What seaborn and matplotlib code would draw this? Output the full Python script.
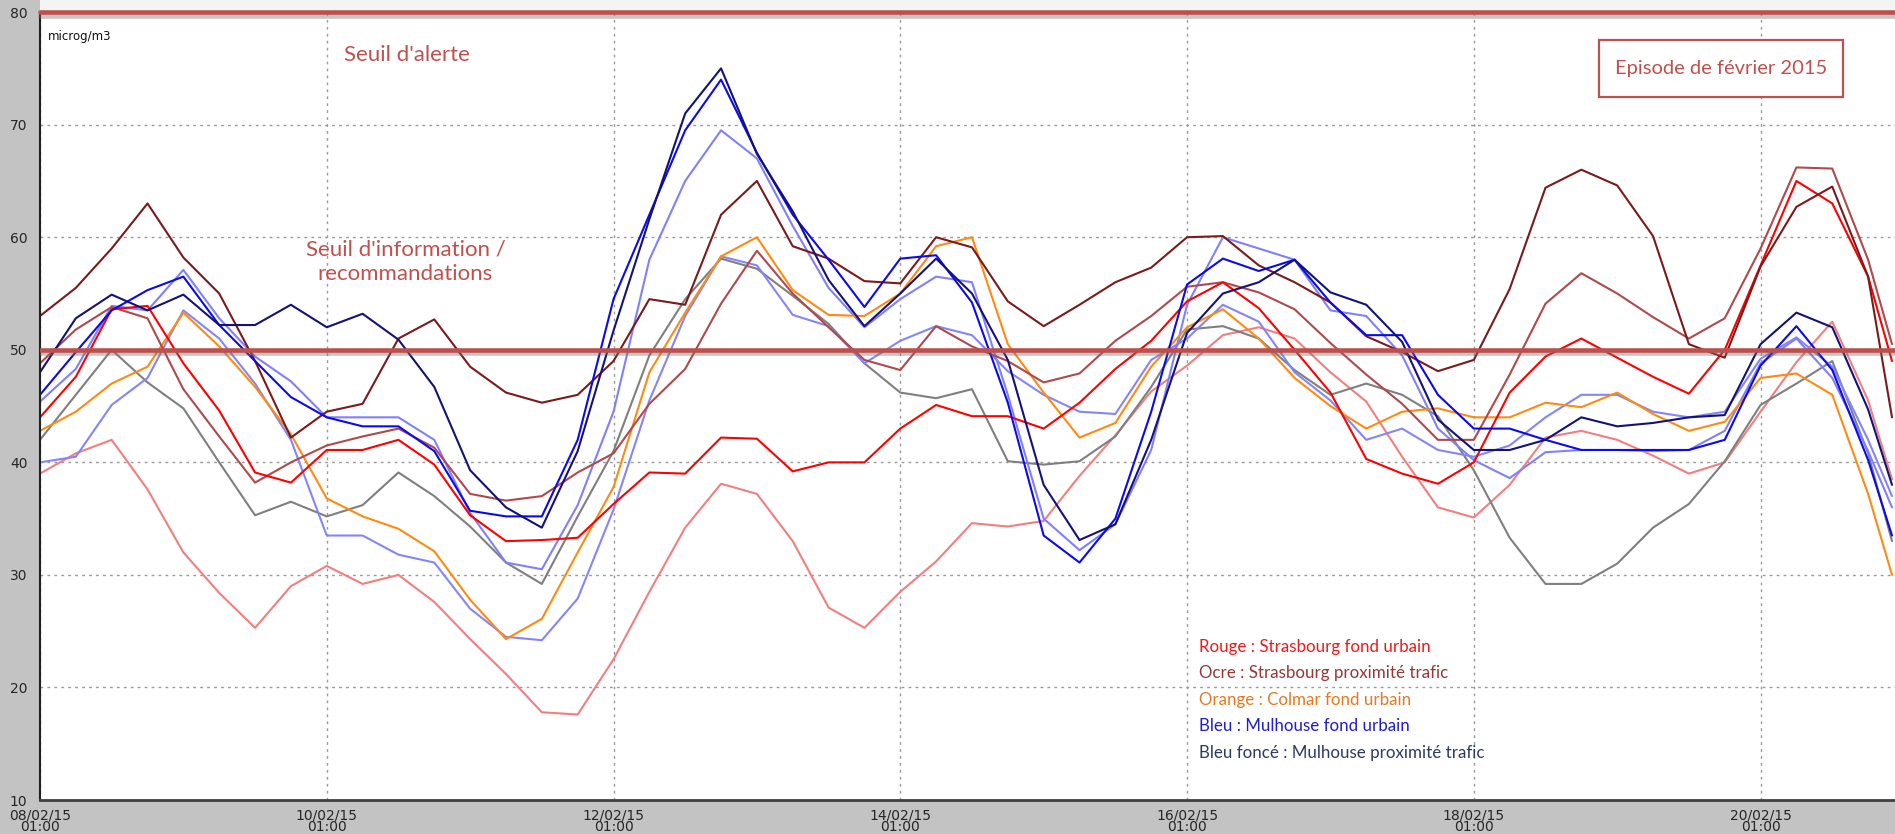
import numpy as np
import pandas as pd
import matplotlib
matplotlib.use("Agg")
import matplotlib.pyplot as plt
import matplotlib.patheffects as pe
from matplotlib.patches import Rectangle
import seaborn as sns

# ---------------- data (hours after 08/02/15 01:00, PM10 in microg/m3) -------------
hours = [0, 6, 12, 18, 24, 30, 36, 42, 48, 54, 60, 66, 72, 78, 84, 90, 96, 102, 108, 114,
         120, 126, 132, 138, 144, 150, 156, 162, 168, 174, 180, 186, 192, 198, 204, 210,
         216, 222, 228, 234, 240, 246, 252, 258, 264, 270, 276, 282, 288, 294, 300, 306, 310]

strasbourg_trafic_1 = [53, 55.5, 59, 63, 58.2, 55, 49, 42.2, 44.5, 45.2, 51, 52.7, 48.5, 46.2, 45.3,
                       46, 49, 54.5, 54, 62, 65, 59.2, 58.1, 56.1, 55.9, 60, 59.1, 54.3, 52.1, 54,
                       56, 57.3, 60, 60.1, 57.5, 56, 54.2, 51.2, 49.8, 48.1, 49.1, 55.4, 64.4, 66,
                       64.6, 60.1, 50.5, 49.3, 57.4, 62.7, 64.5, 56.5, 44]
strasbourg_trafic_2 = [48.8, 51.8, 53.8, 52.8, 46.5, 42.3, 38.2, 40, 41.5, 42.3, 43, 41.3, 37.2, 36.6,
                       37, 39.1, 40.8, 45.2, 48.3, 54.1, 58.8, 55, 52, 49.1, 48.2, 52.1, 50.3, 49,
                       47.1, 47.9, 50.8, 53, 55.6, 56, 55.1, 53.6, 50.6, 47.8, 45.2, 42, 42, 47.8,
                       54.1, 56.8, 55, 52.9, 51, 52.8, 59, 66.2, 66.1, 58, 50.5]
strasbourg_fond_1 = [44, 47.6, 53.6, 53.9, 48.8, 44.6, 39.1, 38.2, 41.1, 41.1, 42, 39.8, 35.3, 33,
                     33.1, 33.3, 36.3, 39.1, 39, 42.2, 42.1, 39.2, 40, 40, 43, 45.1, 44.1, 44.1, 43,
                     45.3, 48.3, 50.8, 54.3, 56, 53.7, 50, 46.2, 40.3, 39, 38.1, 40, 46.2, 49.4, 51,
                     49.3, 47.6, 46.1, 50, 57.5, 65, 63, 56.5, 49]
strasbourg_fond_2 = [39, 40.8, 42, 37.6, 32, 28.4, 25.3, 29, 30.8, 29.2, 30, 27.6, 24.3, 21.2, 17.8,
                     17.6, 22.5, 28.5, 34.2, 38.1, 37.2, 33, 27.1, 25.3, 28.5, 31.2, 34.6, 34.3, 34.8,
                     38.8, 42.4, 46.3, 48.6, 51.3, 52, 51, 48, 45.4, 40.5, 36, 35.1, 38, 42.2, 42.8,
                     42, 40.6, 39, 40, 44.5, 48.9, 52.5, 45.5, 38.5]
colmar_fond = [42.8, 44.5, 47, 48.5, 53.3, 50.3, 46.7, 42.5, 36.8, 35.2, 34.1, 32.1, 27.8, 24.3,
               26.1, 32, 37.8, 48, 53.3, 58.3, 60, 55.3, 53.1, 53, 55, 59.2, 60, 50.5, 46.2, 42.2,
               43.5, 48.5, 52, 53.6, 51, 47.5, 45, 43, 44.5, 44.8, 44, 44, 45.3, 44.9, 46.2, 44.3,
               42.8, 43.6, 47.5, 47.9, 46, 37.2, 30]
autre_station = [42, 46, 50, 47.1, 44.8, 40, 35.3, 36.5, 35.2, 36.2, 39.1, 37, 34.3, 31.1, 29.2,
                 35.2, 41, 49.5, 54.5, 58.1, 57.2, 54.8, 52.3, 48.8, 46.2, 45.7, 46.5, 40.1, 39.8,
                 40.1, 42.3, 46.7, 51.8, 52.1, 51, 48.2, 46, 47, 46, 44.1, 39.3, 33.3, 29.2, 29.2,
                 31, 34.2, 36.3, 40.1, 45.1, 47, 49, 40.8, 33]
mulhouse_trafic = [48, 52.8, 54.9, 53.5, 54.9, 52.2, 52.2, 54, 52, 53.2, 50.9, 46.7, 39.3, 36, 34.2,
                   41, 51.7, 61.6, 71, 75, 67.4, 62.3, 56.2, 52.1, 55, 58.1, 55, 49.1, 38, 33.1,
                   34.5, 42, 51.5, 55, 56, 58, 55.1, 54, 50.7, 43.8, 41.1, 41.1, 42, 44, 43.2, 43.5,
                   44, 44.2, 50.5, 53.3, 52, 44.7, 38]
mulhouse_fond_1 = [46, 49.8, 53.5, 55.3, 56.5, 52.2, 49, 45.8, 44, 43.2, 43.2, 41, 35.7, 35.2, 35.2,
                   42, 54.5, 62, 69.5, 74, 67.5, 62, 58, 53.8, 58.1, 58.4, 54.2, 45.3, 33.5, 31.1,
                   35, 44.5, 55.8, 58.1, 57, 58, 54.2, 51.3, 51.3, 46, 43, 43, 42, 41.1, 41.1, 41.1,
                   41.1, 42, 48.6, 52.1, 48.2, 40.2, 33.5]
mulhouse_fond_2 = [45.4, 48.3, 53.9, 53.5, 57.1, 52.8, 49.4, 47.2, 44, 44, 44, 42, 35.5, 31.1, 30.5,
                   36.2, 44.5, 58, 65, 69.5, 67, 61, 55.5, 52, 54.5, 56.5, 56, 46, 35, 32.2, 34.5,
                   41.1, 54, 60, 59, 58, 53.5, 53, 49.5, 43, 40.2, 38.6, 40.9, 41.1, 41.1, 41, 41.1,
                   42.8, 48.8, 51, 47.5, 41, 36]
mulhouse_fond_3 = [40, 40.5, 45.1, 47.5, 53.5, 51, 47, 42, 33.5, 33.5, 31.8, 31.1, 27, 24.5, 24.2,
                   27.9, 35.8, 45.5, 53, 58.3, 57.5, 53.1, 52.1, 48.8, 50.8, 52.1, 51.3, 48.1, 46,
                   44.5, 44.3, 49.1, 51, 54, 52.5, 48, 45.5, 42, 43, 41.1, 40.5, 41.5, 44, 46, 46,
                   44.5, 44, 44.5, 49.2, 51.1, 48.5, 42, 37]

tick_hours = [0, 48, 96, 144, 192, 240, 288]
tick_labels = ["08/02/15\n01:00", "10/02/15\n01:00", "12/02/15\n01:00", "14/02/15\n01:00",
               "16/02/15\n01:00", "18/02/15\n01:00", "20/02/15\n01:00"]

seuil_info = 50
seuil_alerte = 80

legend_lines = ["Rouge : Strasbourg fond urbain",
                "Ocre : Strasbourg proximité trafic",
                "Orange : Colmar fond urbain",
                "Bleu : Mulhouse fond urbain",
                "Bleu foncé : Mulhouse proximité trafic"]
legend_colors = ["#F01818", "#953735", "#E8781E", "#1E1ECC", "#2A3B62"]

# ---------------- build long table ----------------
series = {
    "Strasbourg fond 2": (strasbourg_fond_2, "#F27E7E"),
    "Autre": (autre_station, "#7F7F7F"),
    "Mulhouse fond 3": (mulhouse_fond_3, "#8585FA"),
    "Mulhouse fond 2": (mulhouse_fond_2, "#8080FF"),
    "Colmar fond": (colmar_fond, "#FF8A12"),
    "Strasbourg trafic 2": (strasbourg_trafic_2, "#B0494A"),
    "Strasbourg fond 1": (strasbourg_fond_1, "#FF0000"),
    "Strasbourg trafic 1": (strasbourg_trafic_1, "#7A1A1A"),
    "Mulhouse fond 1": (mulhouse_fond_1, "#0A0AF0"),
    "Mulhouse trafic": (mulhouse_trafic, "#12127A"),
}
frames = []
for name, (vals, _) in series.items():
    frames.append(pd.DataFrame({"heure": hours, "valeur": vals, "station": name}))
df = pd.concat(frames, ignore_index=True)
palette = {name: col for name, (_, col) in series.items()}
order = list(series.keys())

# ---------------- figure ----------------
sns.set_style("white")
plt.rcParams["font.family"] = ["Lato", "DejaVu Sans"]

fig = plt.figure(figsize=(18.95, 8.34), dpi=100, facecolor="#C3C3C3")
ax = fig.add_axes([0.0211, 0.0407, 0.9789, 0.9448])
ax.set_facecolor("white")
fig.patches.append(Rectangle((0.0211, 0.9855), 0.9789, 0.0145, transform=fig.transFigure,
                             facecolor="#F4F4F4", edgecolor="none", zorder=-5))

sns.lineplot(data=df, x="heure", y="valeur", hue="station", hue_order=order, palette=palette,
             estimator=None, sort=False, legend=False, linewidth=1.5, ax=ax)

ax.set_xlim(0, 310.5)
ax.set_ylim(10, 80)
ax.set_xlabel("")
ax.set_ylabel("")

narrow = ["Liberation Sans Narrow", "DejaVu Sans"]
ax.set_xticks(tick_hours)
ax.set_xticklabels(tick_labels, fontsize=10, family=narrow, linespacing=0.78)
ax.set_yticks(range(10, 81, 10))
ax.set_yticks(range(15, 80, 10), minor=True)
for lab in ax.get_yticklabels():
    lab.set_family(narrow)
    lab.set_fontsize(10)
ax.tick_params(axis="x", which="major", direction="out", length=5, width=1.2,
               color="#202020", pad=1)
ax.tick_params(axis="y", which="major", direction="out", length=7, width=1.2,
               color="#202020", pad=2)
ax.tick_params(axis="y", which="minor", direction="out", length=6, width=1.2, color="#202020")

for s in ["top", "right"]:
    ax.spines[s].set_visible(False)
ax.spines["left"].set_linewidth(1.5)
ax.spines["left"].set_color("#202020")
ax.spines["bottom"].set_linewidth(2)
ax.spines["bottom"].set_color("#404040")

ax.grid(True, which="major", color="#9A9A9A", linestyle=(0, (2, 3)), linewidth=1)

shadow = [pe.SimpleLineShadow(offset=(0, -2.5), shadow_color="#707070", alpha=0.4), pe.Normal()]
ax.axhline(seuil_info, color="#BD4F4C", lw=3.3, zorder=5, path_effects=shadow)
ax.axhline(seuil_alerte, color="#BD4F4C", lw=3.3, zorder=5, clip_on=False, path_effects=shadow)

red_txt = "#C0504D"
ax.text(0.0044, 0.9695, "microg/m3", transform=ax.transAxes, fontsize=8.5, color="#111111",
        family=narrow, ha="left", va="center")
ax.text(0.198, 0.946, "Seuil d'alerte", transform=ax.transAxes, fontsize=16, color=red_txt,
        ha="center", va="center")
ax.text(0.197, 0.683, "Seuil d'information /\nrecommandations", transform=ax.transAxes,
        fontsize=16, color=red_txt, ha="center", va="center", linespacing=1.25)

ax.add_patch(Rectangle((0.8404, 0.8922), 0.1316, 0.0724, transform=ax.transAxes,
                       facecolor="white", edgecolor=red_txt, lw=1.6, zorder=6))
ax.text(0.9062, 0.9284, "Episode de février 2015", transform=ax.transAxes, fontsize=14.5,
        color=red_txt, ha="center", va="center", zorder=7)

ys = [0.1948, 0.161, 0.1272, 0.0935, 0.0597]
for txt, col, y in zip(legend_lines, legend_colors, ys):
    ax.text(0.6248, y, txt, transform=ax.transAxes, fontsize=12.2, color=col,
            ha="left", va="center", zorder=7)

fig.savefig("out.png", dpi=100, facecolor=fig.get_facecolor())
